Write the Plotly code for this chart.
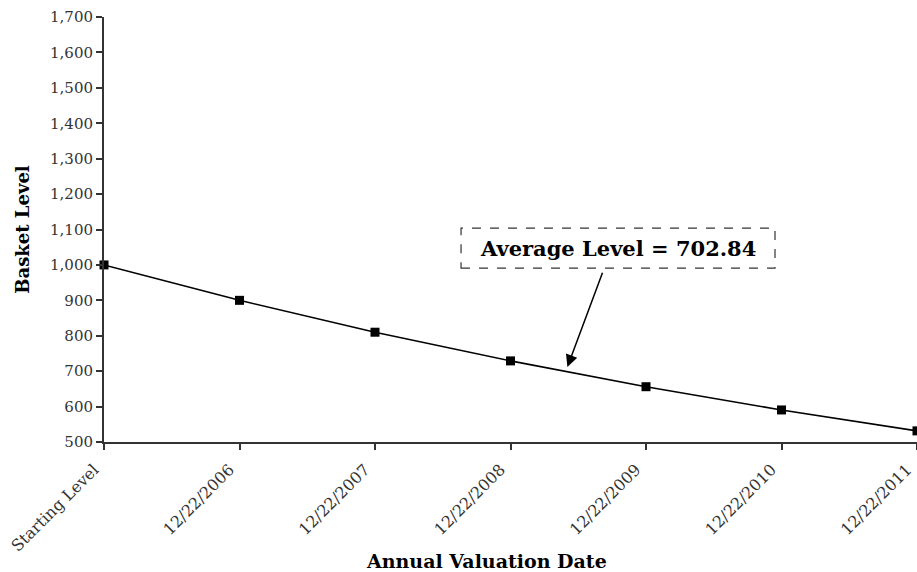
import plotly.graph_objects as go

categories = ["Starting Level", "12/22/2006", "12/22/2007", "12/22/2008",
              "12/22/2009", "12/22/2010", "12/22/2011"]
basket_level = [1000.00, 900.00, 810.00, 729.00, 656.10, 590.49, 531.44]
y_ticks = list(range(500, 1701, 100))
avg_label = "Average Level = 702.84"
x_title = "Annual Valuation Date"
y_title = "Basket Level"

FONT = "DejaVu Serif"

fig = go.Figure()
fig.add_trace(go.Scatter(
    x=list(range(len(categories))), y=basket_level,
    mode="lines+markers",
    line=dict(color="black", width=1.6),
    marker=dict(symbol="square", size=9, color="black"),
    cliponaxis=False, showlegend=False,
))

fig.update_layout(
    width=917, height=572,
    margin=dict(l=104, r=0, t=17, b=130),
    paper_bgcolor="white", plot_bgcolor="white",
    font=dict(family=FONT, size=14, color="#333"),
)
fig.update_xaxes(
    range=[0, len(categories) - 1], automargin=False,
    tickmode="array", tickvals=list(range(len(categories))), ticktext=categories,
    tickangle=-45, ticks="outside", ticklen=6, tickwidth=1.5, tickcolor="#333",
    ticklabeloverflow="allow", ticklabelshift=-10, ticklabelstandoff=4,
    showline=True, linecolor="#333", linewidth=2, showgrid=False, zeroline=False,
    tickfont=dict(family=FONT, size=16, color="#333"),
)
fig.update_yaxes(
    range=[500, 1700], automargin=False, tickvals=y_ticks, tickformat=",",
    ticks="outside", ticklen=6, tickwidth=1.5, tickcolor="#333",
    showline=True, linecolor="#333", linewidth=2, showgrid=False, zeroline=False,
    tickfont=dict(family=FONT, size=15, color="#333"),
    title=dict(text="<b>" + y_title + "</b>", font=dict(family=FONT, size=18, color="black"), standoff=16),
)

# x-axis title (offset left of plot centre as in the original)
fig.add_annotation(x=0.47, y=-0.28, xref="paper", yref="paper", xanchor="center", yanchor="middle",
                   text="<b>" + x_title + "</b>",
                   showarrow=False, font=dict(family=FONT, size=19, color="black"))

# dashed box
fig.add_shape(type="rect", xref="x", yref="y", x0=2.635, x1=4.952, y0=991, y1=1104,
              line=dict(color="#333", width=1.2, dash="dash"), fillcolor="white")
fig.add_annotation(x=3.79, y=1047, xref="x", yref="y", text="<b>" + avg_label + "</b>",
                   showarrow=False, font=dict(family=FONT, size=21, color="black"))
# arrow
fig.add_annotation(x=3.42, y=712, xref="x", yref="y", ax=3.683, ay=982, axref="x", ayref="y",
                   text="", showarrow=True, arrowhead=2, arrowsize=1.6, arrowwidth=1.5,
                   arrowcolor="black")

fig.write_html("out.html", config={"displayModeBar": False},
               post_script="document.body.style.margin='0';document.body.style.overflow='hidden';")
